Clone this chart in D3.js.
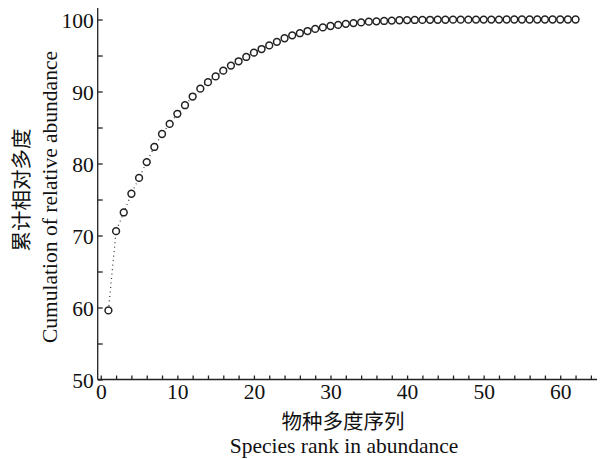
<!DOCTYPE html>
<html>
<head>
<meta charset="utf-8">
<script src="https://cdn.jsdelivr.net/npm/d3@7"></script>
<style>
body { margin:0; background:#fff; }
text { font-family: "Liberation Serif", "Times New Roman", serif; fill:#111; }
.cjk { font-family: "Noto Sans CJK SC", "Noto Serif CJK SC", sans-serif; }
</style>
</head>
<body>
<div id="chart"></div>
<script>
//data
var ranks = d3.range(1, 63);
var cumulative = [59.6, 70.6, 73.2, 75.8, 78.0, 80.2, 82.3, 84.1, 85.5, 86.9,
  88.1, 89.3, 90.4, 91.3, 92.1, 92.9, 93.6, 94.2, 94.8, 95.4,
  95.9, 96.4, 96.9, 97.4, 97.8, 98.1, 98.4, 98.7, 98.9, 99.1,
  99.25, 99.4, 99.5, 99.6, 99.7, 99.75, 99.8, 99.85, 99.9, 99.92,
  99.94, 99.95, 99.96, 99.97, 99.97, 99.98, 99.98, 99.98, 99.99, 99.99,
  99.99, 99.99, 100, 100, 100, 100, 100, 100, 100, 100, 100, 100];
var xTicksMajor = [0, 10, 20, 30, 40, 50, 60];
var yTicksMajor = [50, 60, 70, 80, 90, 100];

var width = 600, height = 459;
var svg = d3.select('#chart').append('svg')
  .attr('width', width)
  .attr('height', height);

var x = d3.scaleLinear().domain([-0.4, 64.8]).range([97.7, 597]);
var y = d3.scaleLinear().domain([50, 101.6]).range([379.5, 8]);

var points = ranks.map(function(r, i){ return {x:r, y:cumulative[i]}; });

//dotted connecting line
var line = d3.line()
  .x(function(d){return x(d.x);})
  .y(function(d){return y(d.y);});
svg.append('path')
  .datum(points)
  .attr('d', line)
  .attr('fill', 'none')
  .attr('stroke', '#333')
  .attr('stroke-width', 1.2)
  .attr('stroke-dasharray', '1,3.5');

//axes, ticks pointing inward
var xAxis = d3.axisBottom(x)
  .tickValues(d3.range(0, 65, 2))
  .tickSize(-4)
  .tickFormat(function(d){ return xTicksMajor.indexOf(d) >= 0 ? d : ''; });
var gx = svg.append('g')
  .attr('transform', 'translate(0,' + y(50) + ')')
  .call(xAxis);
gx.select('.domain').attr('d', 'M' + x.range()[0] + ',0H' + x.range()[1]);
gx.selectAll('text').attr('dy', 0).attr('y', 19).style('font-size', '21.5px');

var yAxis = d3.axisLeft(y)
  .tickValues(d3.range(50, 101, 5))
  .tickSize(-5)
  .tickFormat(function(d){ return yTicksMajor.indexOf(d) >= 0 ? d : ''; });
var gy = svg.append('g')
  .attr('transform', 'translate(' + x.range()[0] + ',0)')
  .call(yAxis);
gy.select('.domain').attr('d', 'M0,' + y.range()[0] + 'V' + y.range()[1]);
gy.selectAll('text').attr('x', -4).attr('dy', '0.35em').style('font-size', '21.5px');

svg.selectAll('.domain, .tick line').attr('stroke', '#222').attr('stroke-width', 1.3);

//markers
svg.selectAll('.pt')
  .data(points)
  .enter()
  .append('circle')
  .attr('class', 'pt')
  .attr('cx', function(d){return x(d.x);})
  .attr('cy', function(d){return y(d.y);})
  .attr('r', 3.4)
  .attr('fill', '#fff')
  .attr('stroke', '#222')
  .attr('stroke-width', 1.5);

//axis titles
svg.append('text')
  .attr('class', 'cjk')
  .attr('x', 343).attr('y', 429)
  .attr('text-anchor', 'middle')
  .style('font-size', '20.5px')
  .text('物种多度序列');
svg.append('text')
  .attr('x', 344).attr('y', 453)
  .attr('text-anchor', 'middle')
  .style('font-size', '21.5px')
  .text('Species rank in abundance');

svg.append('text')
  .attr('class', 'cjk')
  .attr('transform', 'translate(29,190) rotate(-90)')
  .attr('text-anchor', 'middle')
  .style('font-size', '20.5px')
  .text('累计相对多度');
svg.append('text')
  .attr('transform', 'translate(57,197) rotate(-90)')
  .attr('text-anchor', 'middle')
  .style('font-size', '21.5px')
  .text('Cumulation of relative abundance');
</script>
</body>
</html>
